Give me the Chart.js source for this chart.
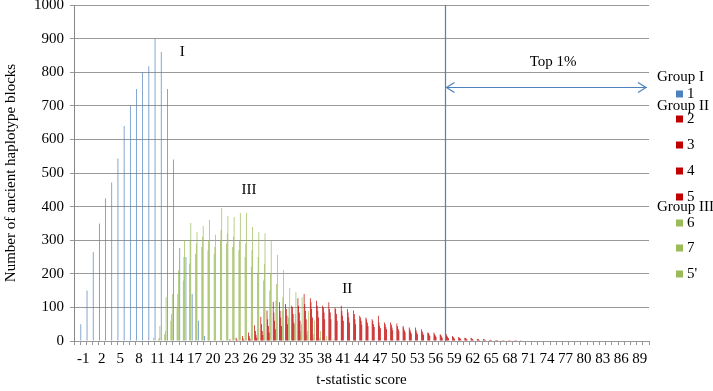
<!DOCTYPE html>
<html>
<head>
<meta charset="utf-8">
<script src="https://cdn.jsdelivr.net/npm/chart.js@4.4.1/dist/chart.umd.min.js"></script>
<style>
  html, body { margin: 0; padding: 0; background: #fff; }
  #chart { display: block; }
</style>
</head>
<body>
<canvas id="chart" width="713" height="391"></canvas>
<script>
// t-statistic score categories (one bar cluster per integer score)
const categories = [-2, -1, 0, 1, 2, 3, 4, 5, 6, 7, 8, 9, 10, 11, 12, 13, 14, 15, 16, 17, 18, 19,
  20, 21, 22, 23, 24, 25, 26, 27, 28, 29, 30, 31, 32, 33, 34, 35, 36, 37, 38, 39, 40, 41, 42, 43,
  44, 45, 46, 47, 48, 49, 50, 51, 52, 53, 54, 55, 56, 57, 58, 59, 60, 61, 62, 63, 64, 65, 66, 67,
  68, 69, 70, 71, 72, 73, 74, 75, 76, 77, 78, 79, 80, 81, 82, 83, 84, 85, 86, 87, 88, 89, 90];
const tickLabels = [-1, 2, 5, 8, 11, 14, 17, 20, 23, 26, 29, 32, 35, 38, 41, 44, 47, 50, 53, 56,
  59, 62, 65, 68, 71, 74, 77, 80, 83, 86, 89];

// each series: first score it covers, then counts from there on (0 elsewhere)
const series1Start = -1;
const series1 = [50, 150, 265, 350, 425, 472, 543, 640, 700, 750, 800, 818, 900, 860, 750, 540, 277, 250, 140, 60, 15];

const redStart = 22;
const series2 = [2, 5, 10, 15, 25, 47, 72, 91, 117, 115, 110, 105, 127, 140, 127, 120, 105, 115, 100, 105,
  95, 91, 75, 70, 65, 75, 55, 55, 52, 45, 40, 40, 35, 25, 25, 20, 20, 15, 12, 10, 10, 6, 6, 3, 3, 2, 2, 1, 1];
const series3 = [0, 2, 5, 8, 15, 30, 50, 65, 85, 90, 95, 100, 105, 110, 115, 105, 100, 95, 95, 90,
  85, 80, 70, 65, 60, 55, 50, 48, 45, 40, 35, 32, 28, 24, 20, 18, 15, 12, 10, 9, 8, 6, 5, 4, 3, 2, 2, 1, 1];
const series4 = [0, 0, 2, 4, 8, 18, 30, 45, 60, 70, 75, 80, 85, 90, 95, 90, 85, 85, 80, 75,
  70, 65, 60, 55, 50, 45, 42, 40, 36, 32, 28, 25, 22, 19, 16, 14, 12, 10, 8, 7, 6, 5, 4, 3, 2, 2, 1, 1, 0];
const series5 = [0, 0, 0, 2, 4, 10, 18, 25, 35, 45, 50, 55, 60, 65, 70, 70, 65, 65, 60, 60,
  55, 50, 48, 45, 42, 38, 35, 32, 30, 26, 22, 20, 18, 15, 12, 10, 9, 7, 6, 5, 4, 3, 3, 2, 2, 1, 1, 1, 0];

const greenStart = 10;
const series6 = [0, 5, 20, 60, 100, 180, 230, 260, 280, 270, 260, 300, 290, 280, 270, 250, 220, 200, 180, 150,
  120, 90, 70, 50, 30, 20, 10, 5, 0, 0];
const series7 = [0, 10, 30, 80, 140, 250, 300, 290, 310, 300, 280, 330, 320, 310, 300, 290, 270, 250, 230, 200,
  170, 130, 100, 80, 50, 30, 20, 10, 5, 0];
const series5b = [10, 45, 130, 140, 210, 300, 351, 324, 342, 360, 316, 396, 372, 369, 381, 381, 339, 324, 321, 300,
  256, 211, 158, 145, 130, 90, 60, 30, 15, 5];

const BLUE = '#4F81BD';
const RED = '#C00000';
const GREEN = '#9BBB59';
const FONT = '"Liberation Serif", "Times New Roman", serif';

function place(start, values) {
  return categories.map(c => {
    const i = c - start;
    return i >= 0 && i < values.length ? values[i] : 0;
  });
}

const datasets = [
  { label: '1', data: place(series1Start, series1), backgroundColor: BLUE },
  { label: '2', data: place(redStart, series2), backgroundColor: RED },
  { label: '3', data: place(redStart, series3), backgroundColor: RED },
  { label: '4', data: place(redStart, series4), backgroundColor: RED },
  { label: '5', data: place(redStart, series5), backgroundColor: RED },
  { label: '6', data: place(greenStart, series6), backgroundColor: GREEN },
  { label: '7', data: place(greenStart, series7), backgroundColor: GREEN },
  { label: "5'", data: place(greenStart, series5b), backgroundColor: GREEN }
];

const groups = [
  { name: 'Group I', members: ['1'] },
  { name: 'Group II', members: ['2', '3', '4', '5'] },
  { name: 'Group III', members: ['6', '7', "5'"] }
];

// text labels inside the plot, anchored on (score, count)
const notes = [
  { text: 'I', score: 15, value: 860 },
  { text: 'III', score: 25.8, value: 450 },
  { text: 'II', score: 41.7, value: 155 },
  { text: 'Top 1%', score: 75, value: 830 }
];
const top1Score = 58;
const arrowValue = 756;

const annotations = {
  id: 'annotations',
  afterDatasetsDraw(chart) {
    const { ctx, chartArea: a, scales: { x, y } } = chart;
    ctx.save();
    ctx.strokeStyle = BLUE;
    ctx.lineWidth = 1.2;
    const cut = Math.round(x.getPixelForValue(categories.indexOf(top1Score) - 0.5)) + 0.5;
    ctx.beginPath();
    ctx.moveTo(cut, a.top);
    ctx.lineTo(cut, a.bottom);
    ctx.stroke();

    const ay = Math.round(y.getPixelForValue(arrowValue)) + 0.5;
    const end = a.right - 2;
    ctx.beginPath();
    ctx.moveTo(cut, ay);
    ctx.lineTo(end, ay);
    ctx.moveTo(cut + 9, ay - 5);
    ctx.lineTo(cut + 1, ay);
    ctx.lineTo(cut + 9, ay + 5);
    ctx.moveTo(end - 9, ay - 5);
    ctx.lineTo(end - 1, ay);
    ctx.lineTo(end - 9, ay + 5);
    ctx.stroke();

    ctx.fillStyle = '#000';
    ctx.font = '15px ' + FONT;
    ctx.textAlign = 'center';
    ctx.textBaseline = 'middle';
    notes.forEach(n => {
      const px = x.getPixelForValue(categories.indexOf(Math.floor(n.score)) + (n.score % 1));
      ctx.fillText(n.text, px, y.getPixelForValue(n.value));
    });
    ctx.restore();
  }
};

const groupLegend = {
  id: 'groupLegend',
  afterDraw(chart) {
    const { ctx } = chart;
    // rows as laid out in the original legend box
    const headerY = [77, 106, 207];
    const itemY = { '1': 94, '2': 119, '3': 145, '4': 171, '5': 197, '6': 223, '7': 248, "5'": 274 };
    ctx.save();
    ctx.font = '15px ' + FONT;
    ctx.textBaseline = 'middle';
    ctx.textAlign = 'left';
    groups.forEach((g, gi) => {
      ctx.fillStyle = '#000';
      ctx.fillText(g.name, 657, headerY[gi]);
      g.members.forEach(m => {
        const ds = chart.data.datasets.find(d => d.label === m);
        const yy = itemY[m];
        ctx.fillStyle = ds.backgroundColor;
        ctx.fillRect(676, yy - 3.5, 7, 7);
        ctx.fillStyle = '#000';
        ctx.fillText(m, 687, yy);
      });
    });
    ctx.restore();
  }
};

const ctx = document.getElementById('chart').getContext('2d');
const chart = new Chart(ctx, {
  type: 'bar',
  data: { labels: categories.map(String), datasets },
  options: {
    responsive: false,
    animation: false,
    devicePixelRatio: 1,
    layout: { padding: { top: 5, right: 64, left: 0, bottom: 0 } },
    plugins: { legend: { display: false }, tooltip: { enabled: false } },
    datasets: { bar: { categoryPercentage: 0.9, barPercentage: 1.0, borderWidth: 0 } },
    scales: {
      x: {
        grid: { drawOnChartArea: false, tickLength: 4, color: '#999', offset: true },
        border: { color: '#999' },
        ticks: {
          autoSkip: false, maxRotation: 0, minRotation: 0, padding: 5, color: '#000',
          font: { family: FONT, size: 15 },
          callback: (val, i) => tickLabels.includes(categories[i]) ? String(categories[i]) : ''
        },
        title: {
          display: true, text: 't-statistic score', color: '#000',
          font: { family: FONT, size: 15 }, padding: { top: 4, bottom: 2 }
        },
        afterFit: s => { s.height = 50; s.paddingLeft = 0; s.paddingRight = 0; }
      },
      y: {
        min: 0,
        max: 1000,
        ticks: {
          stepSize: 100, padding: 6, color: '#000', font: { family: FONT, size: 15 },
          callback: v => String(v)
        },
        grid: { color: '#999', tickLength: 4 },
        border: { color: '#888' },
        title: {
          display: true, text: 'Number of ancient haplotype blocks', color: '#000',
          font: { family: FONT, size: 15 }, padding: { top: 2, bottom: 2 }
        },
        afterFit: s => { s.width = 74; s.paddingTop = 0; s.paddingBottom = 0; }
      }
    }
  },
  plugins: [annotations, groupLegend]
});
</script>
</body>
</html>
